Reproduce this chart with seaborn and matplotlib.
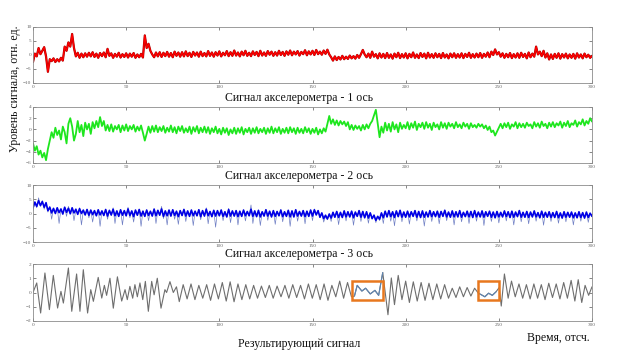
import numpy as np
import pandas as pd
import matplotlib
matplotlib.use("Agg")
import matplotlib.pyplot as plt
from matplotlib.patches import Rectangle
import seaborn as sns

# ---------------- data ----------------
t_samples = list(range(0, 301))

axis1_signal = [
    -2.5, 0.5, -0.5, 2.5, 0.3, 1.5, 2.8, -0.5, -6.0, -1.5,
    -2.2, -1.2, -2.5, -1.5, -2.3, -1.0, -2.0, 3.0, 1.5, 4.5,
    3.0, 7.5, 2.5, -0.5, 0.8, -1.0, 0.5, -0.8, 0.6, -0.6,
    0.8, -0.5, 1.0, -0.7, 0.5, -1.0, 0.7, -0.4, 0.9, -0.8,
    2.2, -0.3, 0.6, -1.0, 0.4, -0.6, 0.8, -0.9, 0.3, -0.7,
    0.6, -0.9, 0.5, -0.6, 0.7, -1.0, 0.2, -0.8, 0.4, -0.9,
    7.0, 2.5, 4.0, 1.5, 0.2, -0.8, 0.9, -0.5, 1.0, -0.7,
    0.8, -0.4, 1.1, -0.6, 0.7, -0.8, 1.2, -0.3, 0.9, -0.6,
    1.0, -0.5, 1.3, -0.4, 0.8, -0.7, 1.1, -0.2, 0.9, -0.6,
    1.2, -0.4, 0.7, -0.5, 1.4, -0.3, 0.9, -0.6, 1.0, -0.2,
    1.3, -0.5, 0.8, -0.1, 1.4, -0.4, 1.0, -0.3, 1.6, -0.2,
    0.9, -0.5, 1.2, -0.1, 1.5, -0.3, 0.8, -0.4, 1.3, 0.0,
    1.1, -0.4, 1.5, -0.2, 0.9, -0.3, 1.4, 0.1, 1.2, -0.3,
    1.0, -0.2, 1.5, 0.0, 1.1, -0.3, 1.3, 0.1, 1.6, -0.1,
    1.2, 0.2, 1.4, -0.2, 1.1, 0.3, 1.7, -0.1, 1.3, 0.2,
    1.5, 0.0, 1.8, 0.3, 1.2, 0.1, 1.6, 0.4, 1.9, 0.2,
    -0.8, -2.0, -0.5, -1.8, -0.7, -1.6, -0.3, -1.5, -0.6, -1.4,
    -0.2, -1.2, -0.4, -1.3, 0.0, -1.0, 0.3, 1.8, 0.2, -0.8,
    0.5, -1.0, 1.2, -0.6, 0.3, -1.2, 0.6, -0.9, 0.4, -1.1,
    0.7, -1.0, 0.2, -1.3, 0.5, -0.8, 0.8, -1.1, 0.3, -0.9,
    0.6, -1.2, 0.4, -0.8, 0.9, -1.0, 0.2, -1.1, 0.7, -0.7,
    0.5, -1.2, 0.8, -0.9, 0.3, -1.0, 0.6, -0.8, 0.4, -1.1,
    0.7, -0.9, 0.2, -1.2, 0.5, -0.8, 0.6, -1.0, 0.3, -0.9,
    0.6, -1.1, 0.4, -0.7, 0.8, -1.0, 0.3, -0.9, 0.5, -0.8,
    0.7, -1.0, 0.4, -0.6, 0.9, -0.8, 1.2, 0.0, 2.0, 0.2,
    1.0, -0.6, 0.6, -1.0, 0.4, -0.8, 0.7, -1.1, 0.3, -0.9,
    0.6, -1.0, 0.8, -0.7, 0.4, -1.2, 0.9, -0.8, 0.5, -0.6,
    3.0, 0.2, 1.2, -0.4, 1.5, -0.9, 0.6, -1.6, 0.2, -1.4,
    0.4, -1.0, 0.6, -1.3, 0.3, -0.9, 0.5, -1.2, 0.2, -1.0,
    0.4, -1.3, 0.6, -0.9, 0.2, -1.2, 0.5, -0.8, 0.1, -1.0,
    -0.3,
]

axis2_signal = [
    -2.5, -3.8, -3.0, -4.5, -3.8, -5.0, -4.2, -5.5, -3.5, -2.0,
    -0.5, -1.5, 0.3, -1.0, -0.2, -1.8, 0.5, -0.5, -2.5, 1.0,
    2.0, 0.5, -2.0, -0.8, 1.5, -0.5, 0.8, -1.2, 1.2, 0.0,
    1.0, -0.8, 1.3, 0.2, 1.5, 0.4, 2.2, 0.6, 1.5, -0.2,
    0.8, -0.3, 0.9, -0.4, 0.6, 0.0, 0.8, -0.5, 0.7, -0.2,
    0.9, -0.3, 0.6, 0.0, 0.8, -0.4, 0.5, -0.2, 0.7, -0.6,
    -2.0, -0.8, 0.5, -0.6, 0.6, -0.4, 0.7, -0.5, 0.4, -0.3,
    0.6, -0.6, 0.3, -0.4, 0.7, -0.5, 0.4, -0.7, 0.5, -0.3,
    0.6, -0.6, 0.2, -0.5, 0.5, -0.8, 0.4, -0.4, 0.6, -0.7,
    0.3, -0.5, 0.5, -0.6, 0.4, -0.8, 0.2, -0.5, 0.5, -0.7,
    0.1, -0.9, 0.3, -0.6, 0.2, -1.0, 0.0, -0.7, 0.3, -0.8,
    0.2, -0.6, 0.4, -0.9, 0.1, -0.5, 0.3, -0.8, 0.2, -0.6,
    0.4, -0.7, 0.1, -0.5, 0.3, -0.8, 0.2, -0.6, 0.5, -0.7,
    0.2, -0.5, 0.4, -0.8, 0.1, -0.6, 0.3, -0.7, 0.4, -0.5,
    0.2, -0.8, 0.3, -0.6, 0.1, -0.7, 0.4, -0.5, 0.2, -0.8,
    0.1, -0.6, 0.3, -0.9, 0.0, -0.7, 0.2, -0.4, 1.0, 2.4,
    1.0, 1.8, 0.8, 1.6, 0.7, 1.5, 0.9, 1.4, 0.6, 1.3,
    0.0, 0.8, -0.1, 0.7, 0.1, 0.6, -0.2, 0.8, 0.0, 0.9,
    0.2, 1.0, 1.5, 2.5, 3.5, 1.0, -1.4, 0.5, -0.6, 1.2,
    -0.2, 1.0, -0.4, 1.3, 0.0, 0.9, -0.5, 1.2, 0.1, 0.8,
    0.2, 1.3, 0.0, 1.1, 0.3, 1.4, -0.1, 1.0, 0.4, 1.2,
    0.1, 1.3, 0.3, 1.0, -0.1, 1.2, 0.4, 0.9, 0.0, 1.3,
    0.3, 1.1, 0.1, 1.2, 0.5, 1.0, 0.2, 1.3, 0.4, 0.9,
    0.2, 1.2, 0.5, 1.0, 0.1, 1.1, 0.4, 0.8, 0.3, 1.0,
    0.5, 0.9, 0.2, 0.7, -0.1, 0.5, -0.5, -0.2, -1.1, -0.4,
    0.3, 1.0, 0.2, 1.1, 0.4, 1.2, 0.1, 0.9, 0.5, 1.3,
    0.2, 1.1, 0.4, 1.0, 0.3, 1.2, 0.6, 0.9, 0.2, 1.3,
    0.5, 1.1, 0.3, 1.4, 0.6, 1.0, 0.2, 1.2, 0.5, 1.3,
    0.4, 1.1, 0.7, 1.4, 0.3, 1.2, 0.6, 1.5, 0.4, 1.1,
    0.8, 1.6, 0.5, 1.3, 0.9, 1.8, 0.7, 1.5, 1.0, 2.0,
    1.4,
]

# axis 3: raw samples with spikes (thin light line)
axis3_raw = [
    1.0, 4.0, 2.0, 5.5, 2.5, 4.5, 1.5, 3.5, 0.5, 2.5,
    -2.0, 1.8, 0.2, 2.0, -3.5, 1.5, 0.0, 2.2, -1.0, 2.5,
    0.5, 1.8, -2.5, 1.2, 0.0, 2.0, -4.0, 1.0, -0.5, 1.5,
    -1.5, 1.2, -3.0, 0.8, -0.8, 1.3, -4.5, 0.9, -0.6, 1.5,
    -2.0, 1.0, -0.8, 2.0, -3.5, 0.8, -1.0, 1.4, -4.0, 1.0,
    -0.9, 2.2, -1.5, 0.8, -3.0, 1.2, -0.7, 1.5, -4.5, 0.9,
    -1.0, 1.3, -2.5, 0.7, -0.8, 1.8, -3.5, 1.1, -0.6, 2.5,
    -1.8, 0.9, -4.0, 1.2, -0.9, 1.4, -2.0, 0.8, -3.8, 1.0,
    -0.7, 1.6, -2.8, 0.9, -1.0, 1.3, -4.2, 0.8, -0.8, 1.5,
    -2.2, 1.1, -0.9, 2.0, -3.6, 0.7, -1.1, 1.2, -4.8, 1.0,
    -0.8, 1.4, -2.5, 0.6, -1.2, 1.8, -3.2, 0.9, -0.9, 1.1,
    -4.0, 0.8, -1.0, 1.3, -2.6, 0.7, -0.8, 3.0, -3.5, 0.9,
    -1.1, 1.2, -4.2, 0.6, -0.9, 1.5, -2.4, 0.8, -1.2, 1.0,
    -3.8, 0.7, -0.8, 1.4, -2.9, 0.6, -1.0, 1.2, -4.5, 0.9,
    -1.2, 1.5, -2.7, 0.7, -0.9, 1.1, -3.6, 0.8, -1.0, 1.3,
    -2.5, 1.6, -0.5, 1.0, -1.5, 0.2, -3.0, -1.0, -2.2, 0.0,
    -2.8, 0.5, -1.3, 0.8, -3.9, 0.4, -1.4, 1.0, -2.6, 0.6,
    -1.2, 0.9, -4.1, 0.5, -1.0, 1.1, -2.8, 0.7, -1.5, 0.6,
    -3.4, 0.3, -1.8, -0.5, -3.2, -1.0, -2.5, 0.3, -3.5, 0.8,
    -1.2, 1.0, -2.7, 0.6, -4.3, 0.9, -1.1, 1.2, -2.9, 0.5,
    -1.3, 0.8, -3.7, 0.6, -1.0, 1.1, -2.6, 0.7, -1.4, 0.9,
    -4.4, 0.5, -1.2, 1.0, -2.8, 0.6, -1.1, 0.8, -3.6, 0.7,
    -1.0, 1.3, -2.5, 0.5, -1.3, 0.9, -4.0, 0.6, -1.2, 1.0,
    -2.9, 0.4, -1.1, 0.8, -3.5, 0.7, -1.4, 1.1, -2.7, 0.5,
    -1.2, 0.9, -4.2, 0.6, -1.0, 0.8, -2.8, 0.5, -1.5, 0.7,
    -3.3, 0.4, -1.2, 0.9, -2.6, 0.6, -1.4, 0.8, -4.0, 0.5,
    -1.1, 1.2, -2.9, 0.4, -1.3, 0.7, -3.6, 0.5, -1.2, 0.9,
    -2.7, 0.3, -1.5, 0.8, -4.1, 0.4, -1.3, 0.6, -2.8, 0.3,
    -1.4, 0.7, -3.4, 0.2, -1.6, 0.6, -2.9, 0.4, -1.3, 0.5,
    -4.0, 0.2, -1.5, 0.6, -2.7, 0.3, -1.6, 0.5, -3.1, 0.1,
    -1.0,
]

# axis 3: dense core band (thick dark line)
axis3_core = [
    2.0, 4.0, 2.5, 4.5, 2.8, 4.2, 2.2, 3.8, 1.0, 2.2,
    0.2, 1.8, 0.0, 2.0, 0.3, 1.6, -0.2, 2.2, 0.4, 1.8,
    -0.1, 2.0, 0.2, 1.5, -0.3, 1.7, 0.0, 1.2, -0.5, 1.4,
    -0.6, 1.2, -0.4, 1.0, -0.8, 1.3, -0.5, 0.9, -0.7, 1.4,
    -0.9, 1.1, -0.5, 1.5, -0.8, 0.9, -1.0, 1.3, -0.6, 1.0,
    -0.8, 1.6, -0.7, 0.9, -1.1, 1.2, -0.6, 1.4, -0.9, 0.8,
    -1.0, 1.2, -0.7, 0.8, -0.9, 1.5, -0.8, 1.1, -0.6, 1.6,
    -1.0, 0.9, -0.8, 1.2, -0.9, 1.3, -0.7, 0.8, -1.1, 1.0,
    -0.7, 1.4, -0.9, 0.9, -1.0, 1.2, -0.8, 0.8, -0.8, 1.3,
    -1.1, 1.0, -0.9, 1.5, -0.8, 0.7, -1.1, 1.1, -0.9, 1.0,
    -0.8, 1.2, -1.0, 0.6, -1.2, 1.4, -0.9, 0.9, -0.9, 1.0,
    -1.1, 0.8, -1.0, 1.2, -0.8, 0.7, -0.8, 1.5, -1.0, 0.9,
    -1.1, 1.1, -1.2, 0.6, -0.9, 1.3, -0.9, 0.8, -1.2, 1.0,
    -1.0, 0.7, -0.8, 1.2, -1.1, 0.6, -1.0, 1.1, -1.2, 0.9,
    -1.2, 1.3, -0.9, 0.7, -0.9, 1.0, -1.1, 0.8, -1.0, 1.2,
    -0.9, 1.3, -0.5, 1.0, -1.3, 0.2, -1.8, -0.6, -1.9, -0.2,
    -1.6, 0.4, -1.3, 0.7, -1.4, 0.4, -1.4, 0.9, -1.2, 0.6,
    -1.2, 0.8, -1.5, 0.5, -1.0, 1.0, -1.3, 0.7, -1.5, 0.6,
    -1.6, 0.2, -1.8, -0.6, -2.4, -1.0, -2.0, 0.2, -1.5, 0.8,
    -1.2, 1.0, -1.1, 0.6, -1.4, 0.9, -1.1, 1.1, -1.3, 0.5,
    -1.3, 0.8, -1.2, 0.6, -1.0, 1.0, -1.3, 0.7, -1.4, 0.9,
    -1.3, 0.5, -1.2, 1.0, -1.1, 0.6, -1.1, 0.8, -1.3, 0.7,
    -1.0, 1.1, -1.2, 0.5, -1.3, 0.9, -1.2, 0.6, -1.2, 1.0,
    -1.3, 0.4, -1.1, 0.8, -1.2, 0.7, -1.4, 1.0, -1.2, 0.5,
    -1.2, 0.9, -1.3, 0.6, -1.0, 0.8, -1.3, 0.5, -1.5, 0.7,
    -1.2, 0.4, -1.2, 0.9, -1.1, 0.6, -1.4, 0.8, -1.3, 0.5,
    -1.1, 1.0, -1.3, 0.4, -1.3, 0.7, -1.4, 0.5, -1.2, 0.9,
    -1.2, 0.3, -1.5, 0.8, -1.3, 0.4, -1.3, 0.6, -1.4, 0.3,
    -1.4, 0.7, -1.5, 0.2, -1.6, 0.6, -1.3, 0.4, -1.3, 0.5,
    -1.5, 0.2, -1.5, 0.6, -1.4, 0.3, -1.6, 0.5, -1.4, 0.1,
    -1.0,
]

# resulting signal: turning points (time, value)
result_t = [
    0, 2, 4.1, 6.4, 8.8, 10.9, 13.2, 15, 16.3, 19, 20.8, 23.4, 25.2, 27, 29.3,
    31, 32.4, 35, 36.9, 38.3, 39.5, 41.3, 43.1, 45.3, 47.6, 49.4, 50.6, 52,
    53.5, 54.7, 56, 57.4, 58.9, 60.3, 61.9, 63.7, 65, 66.7, 68.7, 70.8, 71.7,
    73.5, 75.3, 77, 78.5, 80.6, 82.7, 84.8, 86.9, 89.0, 91.1, 93.2, 95.3,
    97.4, 99.5, 101.6, 103.7, 105.8, 107.9, 110.0, 112.1, 114.2, 116.3, 118.4,
    120.5, 122.6, 124.7, 126.8, 128.9, 131.0, 133.1, 135.2, 137.3, 139.4,
    141.5, 143.6, 145.7, 147.8, 149.9, 152.0, 154.1, 156.2, 158.3, 160.4,
    162.5, 164.6, 166.7, 168.8, 170.9, 172.5, 174, 176.5, 178.5, 181, 183.5,
    185.5, 187.7, 190.5, 192.3, 194, 196, 198, 200, 202, 204.1, 206.2, 208.3,
    210.4, 212.5, 214.6, 216.7, 218.8, 220.9, 223, 225, 227, 229, 231, 233,
    235, 237, 239, 240.5, 242.5, 244.5, 246.5, 248.5, 250.2, 251.3, 253, 255,
    256.8, 258.8, 260.8, 262.8, 264.8, 266.8, 268.8, 270.8, 272.8, 274.8,
    276.8, 278.8, 280.8, 282.8, 284.8, 286.8, 288.8, 290.8, 292.6, 294.5,
    296.3, 298.2, 300,
]
result_v = [
    0.0, 0.67, -1.44, 1.37, -1.2, 1.2, -1.09, 0.08, -0.74, 1.72, -1.32, 1.3,
    -1.32, 1.6, -1.44, 0.2, -0.62, 1.06, -0.39, 0.5, -0.2, 1.0, -1.1, 1.1,
    -0.6, 0.2, -0.5, 0.43, -0.4, 0.55, -0.3, 0.67, -0.5, 0.78, -1.32, 0.78,
    -0.16, 1.0, -1.1, 0.2, 0.0, 0.76, 0.0, 0.4, -0.64, 0.55, -0.45, 0.6,
    -0.5, 0.5, -0.4, 0.55, -0.55, 0.6, -0.45, 0.7, -0.6, 0.75, -0.65, 0.6,
    -0.5, 0.55, -0.45, 0.5, -0.4, 0.45, -0.35, 0.5, -0.4, 0.45, -0.3, 0.5,
    -0.4, 0.55, -0.35, 0.5, -0.45, 0.6, -0.4, 0.55, -0.5, 0.6, -0.55, 0.5,
    -0.3, 0.8, -0.4, 0.7, -0.3, -0.25, 0.5, 0.1, 0.3, -0.1, 0.15, -0.2, 1.4,
    -1.56, 1.02, -0.85, 1.2, -0.5, 0.8, -0.7, 0.75, -0.6, 0.7, -0.55, 0.65,
    -0.5, 0.6, -0.45, 0.55, -0.4, 0.3, -0.35, 0.4, -0.3, 0.35, -0.25, 0.3,
    -0.05, -0.15, -0.3, -0.05, -0.2, 0.05, 0.35, -0.95, 1.3, -0.4, 0.8, -0.3,
    0.6, -0.4, 0.55, -0.45, 0.6, -0.4, 0.55, -0.5, 0.65, -0.35, 0.6, -0.45,
    0.7, -0.4, 0.85, -0.6, 0.9, -0.7, 0.5, -0.2, 0.4,
]

# highlighted fragments of the resulting signal (time ranges / value range)
box_t_ranges = [(171, 187.8), (238.8, 250.1)]
box_v_range = (-0.53, 0.81)

panel_titles = [
    "Сигнал акселерометра - 1 ось",
    "Сигнал акселерометра - 2 ось",
    "Сигнал акселерометра - 3 ось",
    "Результирующий сигнал",
]
y_limits = [(-10, 10), (-6, 4), (-10, 10), (-2, 2)]
y_ticks = [[-10, -5, 0, 5, 10], [-6, -4, -2, 0, 2, 4], [-10, -5, 0, 5, 10], [-2, -1, 0, 1, 2]]
x_ticks = [0, 50, 100, 150, 200, 250, 300]
y_label = "Уровень сигнала, отн. ед."
x_label = "Время, отсч."

# ---------------- drawing ----------------
sns.set_theme(style="white")
plt.rcParams["font.family"] = ["Liberation Serif", "DejaVu Serif"]

W, H = 622, 361
fig = plt.figure(figsize=(W / 100, H / 100), dpi=100)

panel_px = [(27, 83), (107, 163), (185, 242), (264, 321)]
left_px, right_px = 33, 592
title_y_px = [98.5, 175.5, 254, 344]

axes = []
for (top, bot) in panel_px:
    ax = fig.add_axes([left_px / W, 1 - bot / H, (right_px - left_px) / W, (bot - top) / H])
    axes.append(ax)

df_acc = pd.DataFrame({"t": t_samples, "a1": axis1_signal, "a2": axis2_signal,
                       "a3raw": axis3_raw, "a3": axis3_core})
sns.lineplot(data=df_acc, x="t", y="a1", ax=axes[0], color="#a00000", lw=1.6, estimator=None)
sns.lineplot(data=df_acc, x="t", y="a1", ax=axes[0], color="#ff0000", lw=1.0, estimator=None)
sns.lineplot(data=df_acc, x="t", y="a2", ax=axes[1], color="#1ee61e", lw=1.3, estimator=None)
sns.lineplot(data=df_acc, x="t", y="a3raw", ax=axes[2], color="#6f7fc4", lw=0.5, estimator=None)
sns.lineplot(data=df_acc, x="t", y="a3", ax=axes[2], color="#0000e6", lw=1.2, estimator=None)

df_res = pd.DataFrame({"t": result_t, "v": result_v})
sns.lineplot(data=df_res, x="t", y="v", ax=axes[3], color="#6e6e6e", lw=0.8, estimator=None, sort=False)
for (a, b) in box_t_ranges:
    seg = df_res[(df_res.t >= a) & (df_res.t <= b)]
    sns.lineplot(data=seg, x="t", y="v", ax=axes[3], color="#5f86b3", lw=0.8, estimator=None, sort=False)
    axes[3].add_patch(Rectangle((a, box_v_range[0]), b - a, box_v_range[1] - box_v_range[0],
                                fill=False, edgecolor="#e8781e", lw=1.8, zorder=5))

for i, ax in enumerate(axes):
    ax.set_xlim(0, 300)
    ax.set_ylim(*y_limits[i])
    ax.set_xticks(x_ticks)
    ax.set_yticks(y_ticks[i])
    ax.set_xlabel("")
    ax.set_ylabel("")
    ax.tick_params(axis="both", which="both", direction="in", length=2.5, width=0.5,
                   labelsize=3.8, colors="#555555", pad=1.2,
                   top=True, right=True, bottom=True, left=True)
    ax.tick_params(labelcolor="#666666")
    for s in ax.spines.values():
        s.set_color("#8c8c8c")
        s.set_linewidth(0.6)
    ax.set_facecolor("white")
    fig.text(299 / W, 1 - title_y_px[i] / H, panel_titles[i], ha="center", va="center",
             fontsize=8.5, color="#111111")

fig.text(15 / W, 1 - 89 / H, y_label, rotation=90, ha="center", va="center",
         fontsize=8.5, color="#111111")
fig.text(590 / W, 1 - 338 / H, x_label, ha="right", va="center", fontsize=8.5, color="#111111")

fig.savefig("out.png", dpi=100, facecolor="white")
